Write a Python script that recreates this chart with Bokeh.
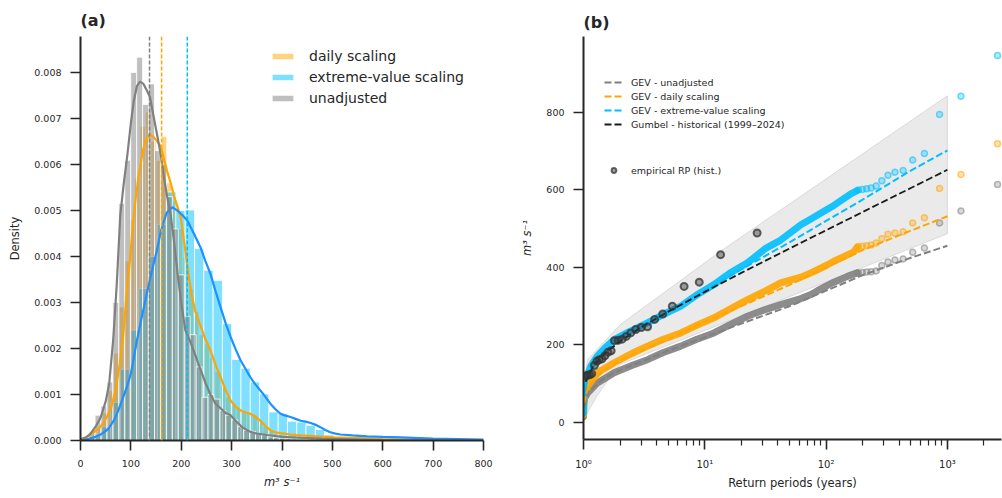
from bokeh.plotting import figure
from bokeh.layouts import row
from bokeh.models import (FixedTicker, PrintfTickFormatter, CustomJSTickFormatter,
                          Span, Legend, LegendItem, Range1d)
from bokeh.embed import file_html
from bokeh.resources import INLINE

FONT = "DejaVu Sans"
INK = "#262626"

# ---------------- panel (a) data ----------------
unadj_bin_width = 11.8
unadj_bin_centers = [11.2, 23.0, 34.8, 46.6, 58.4, 70.2, 82.0, 93.8, 105.6, 117.4, 129.2, 141.0,
                     152.8, 164.6, 176.4, 188.2, 200.0, 211.8, 223.6, 235.4, 247.2, 259.0, 270.8,
                     282.6, 294.4, 306.2, 318.0, 329.8, 341.6, 353.4, 365.2, 377.0, 388.8, 400.6,
                     412.4, 424.2, 436.0, 447.8, 459.6, 471.4]
unadj_density_milli = [0.05, 0.2, 0.55, 0.75, 1.27, 3.0, 5.15, 6.09, 8.0, 8.33, 7.3, 7.75,
                       6.3, 6.0, 5.3, 4.6, 3.6, 2.7, 2.3, 1.6, 0.94, 1.0, 0.9,
                       0.65, 0.55, 0.45, 0.3, 0.22, 0.2, 0.14, 0.12, 0.08, 0.06, 0.05,
                       0.04, 0.03, 0.02, 0.02, 0.01, 0.01]

daily_bin_width = 10.6
daily_bin_centers = [7.0, 17.6, 28.2, 38.8, 49.4, 60.0, 70.6, 81.2, 91.8, 102.4, 113.0, 123.6,
                     134.2, 144.8, 155.4, 166.0, 176.6, 187.2, 197.8, 208.4, 219.0, 229.6, 240.2,
                     250.8, 261.4, 272.0, 282.6, 293.2, 303.8, 314.4, 325.0, 335.6, 346.2, 356.8,
                     367.4, 378.0, 388.6, 399.2, 409.8, 420.4, 431.0, 441.6, 452.2, 462.8, 473.4,
                     484.0, 494.6, 505.2, 515.8, 526.4, 537.0, 547.6]
daily_density_milli = [0.02, 0.05, 0.12, 0.3, 0.6, 1.09, 1.9, 2.9, 3.9, 4.8, 5.7, 6.83,
                       7.14, 6.5, 6.09, 6.61, 5.6, 5.2, 4.6, 4.0, 3.3, 2.8, 2.3,
                       2.1, 1.8, 1.5, 1.2, 0.95, 0.81, 0.7, 0.62, 0.58, 0.55, 0.45,
                       0.3, 0.22, 0.16, 0.13, 0.11, 0.1, 0.08, 0.07, 0.06, 0.06, 0.05,
                       0.04, 0.04, 0.03, 0.03, 0.02, 0.02, 0.01]

ev_bin_width = 18.45
ev_bin_centers = [14.15, 32.6, 51.05, 69.5, 87.95, 106.4, 124.85, 143.3, 161.75, 180.2, 198.65,
                  217.1, 235.55, 254.0, 272.45, 290.9, 309.35, 327.8, 346.25, 364.7, 383.15,
                  401.6, 420.05, 438.5, 456.95, 475.4, 493.85, 512.3, 530.75, 549.2, 567.65,
                  586.1, 604.55, 623.0]
ev_density_milli = [0.03, 0.12, 0.3, 0.83, 1.55, 2.4, 3.3, 4.0, 4.7, 5.4, 5.0,
                    5.01, 4.17, 3.7, 3.48, 2.54, 1.76, 1.57, 1.27, 1.01, 0.62,
                    0.58, 0.42, 0.4, 0.33, 0.24, 0.12, 0.06, 0.05, 0.04, 0.03,
                    0.02, 0.01, 0.01]

kde_unadj_x = [0, 10, 20, 30, 40, 50, 57, 65, 72, 79, 86, 93, 100, 106, 112, 118, 125, 132, 138,
               145, 152, 159, 166, 172, 179, 186, 193, 200, 208, 218, 228, 238, 248, 258, 268,
               278, 288, 298, 308, 318, 328, 337, 350, 370, 400, 437, 480, 520, 560, 600, 700, 800]
kde_unadj_milli = [0.02, 0.06, 0.15, 0.3, 0.5, 0.85, 1.24, 2.2, 3.4, 4.9, 5.6, 6.2, 6.9, 7.39,
                   7.7, 7.8, 7.75, 7.6, 7.46, 7.05, 6.65, 6.23, 5.7, 5.3, 4.9, 4.3, 3.6, 3.0,
                   2.4, 2.15, 1.85, 1.55, 1.25, 1.0, 0.8, 0.7, 0.6, 0.55, 0.43, 0.32, 0.24, 0.19,
                   0.15, 0.12, 0.08, 0.06, 0.04, 0.03, 0.02, 0.01, 0.005, 0.002]

kde_daily_x = [0, 20, 40, 52, 61, 70, 78, 85, 91, 98, 104, 110, 116, 125, 131, 137, 145, 152, 159,
               166, 172, 179, 186, 192, 199, 206, 212, 220, 228, 238, 248, 258, 268, 278, 288,
               298, 308, 318, 328, 337, 347, 357, 367, 377, 387, 397, 417, 437, 470, 503, 550,
               600, 650, 700, 800]
kde_daily_milli = [0.02, 0.12, 0.3, 0.5, 0.72, 1.1, 1.67, 2.3, 3.12, 3.9, 4.7, 5.3, 5.8, 6.35,
                   6.55, 6.65, 6.6, 6.5, 6.4, 6.1, 5.85, 5.6, 5.3, 5.1, 4.85, 4.3, 3.8, 3.2,
                   2.8, 2.5, 2.2, 1.96, 1.65, 1.38, 1.1, 0.87, 0.74, 0.65, 0.61, 0.58, 0.52,
                   0.43, 0.32, 0.22, 0.18, 0.16, 0.13, 0.11, 0.09, 0.07, 0.05, 0.03, 0.02,
                   0.01, 0.005]

kde_ev_x = [0, 10, 20, 30, 40, 55, 66, 75, 92, 100, 112, 122, 133, 142, 151, 160, 171, 182, 192,
            202, 212, 225, 238, 248, 258, 268, 278, 288, 298, 308, 318, 328, 337, 347, 357, 367,
            377, 387, 397, 407, 417, 427, 437, 447, 457, 467, 476, 486, 496, 506, 516, 540, 569,
            600, 635, 700, 750, 800]
kde_ev_milli = [0.01, 0.02, 0.05, 0.08, 0.13, 0.25, 0.43, 0.65, 1.16, 1.45, 2.17, 2.7, 3.26, 3.7,
                4.1, 4.57, 4.95, 5.07, 5.0, 4.9, 4.78, 4.5, 4.2, 3.9, 3.62, 3.25, 2.9, 2.55,
                2.25, 1.98, 1.74, 1.55, 1.38, 1.22, 1.09, 0.95, 0.8, 0.68, 0.58, 0.54, 0.51,
                0.47, 0.43, 0.41, 0.38, 0.34, 0.29, 0.23, 0.18, 0.15, 0.13, 0.11, 0.09, 0.08,
                0.07, 0.04, 0.03, 0.02]

mean_names = ["unadjusted", "daily scaling", "extreme-value scaling"]
mean_values = [137, 161, 212]
density_ticks = [0.0, 0.001, 0.002, 0.003, 0.004, 0.005, 0.006, 0.007, 0.008]
flow_ticks = [0, 100, 200, 300, 400, 500, 600, 700, 800]

# ---------------- panel (b) data ----------------
band_up_rp = [1.0, 1.02, 1.08, 2, 13.5, 1000]
band_up_q = [15, 110, 162, 252, 442, 843]
band_lo_rp = [1.0, 1.1, 1.3, 1.6, 2, 1000]
band_lo_q = [5, 30, 70, 110, 150, 487]

ev_cloud_rp = [1.0004, 1.003, 1.01, 1.03, 1.08, 1.15, 1.3, 1.5, 1.79, 2.3, 3.37, 4.5, 6.34, 8.5,
               11.9, 16, 22.5, 32, 42, 62, 75, 100, 116, 141, 160, 180]
ev_cloud_q = [25, 75, 100, 115, 123, 145, 171, 192, 214, 232, 257, 278, 300, 328,
              356, 385, 412, 450, 470, 510, 525, 548, 560, 578, 590, 598]
daily_cloud_rp = [1.0004, 1.005, 1.02, 1.08, 1.3, 1.79, 2.5, 3.37, 4.5, 6.34, 8.5, 11.9, 16,
                  22.5, 32, 42.2, 62, 75, 100, 116, 140, 169, 180]
daily_cloud_q = [20, 55, 75, 93, 128, 154, 178, 197, 214, 231, 250, 270, 292,
                 317, 340, 360, 375, 386, 405, 416, 428, 440, 452]
unadj_cloud_rp = [1.0004, 1.005, 1.02, 1.08, 1.3, 1.79, 2.5, 3.37, 4.5, 6.34, 8.5, 11.9, 16,
                  22.5, 32, 42.2, 60, 75, 85, 100, 116, 150, 180]
unadj_cloud_q = [15, 45, 62, 76, 102, 128, 147, 162, 180, 197, 214, 231, 252,
                 274, 292, 304, 318, 330, 340, 352, 362, 377, 386]

sim_top_rp = [2590, 1295, 863, 647, 518, 432, 370, 324, 288, 259, 235, 216, 199, 185]
ev_top_q = [947, 842, 795, 694, 677, 650, 646, 638, 624, 610, 605, 603, 601, 600]
daily_top_q = [719, 640, 604, 528, 515, 492, 489, 486, 474, 463, 458, 456, 455, 454]
unadj_top_q = [614, 546, 515, 450, 439, 422, 419, 414, 405, 391, 389, 388, 387, 386]

gev_rp = [1.01, 1.1, 1.5, 2, 5, 10, 20, 50, 100, 200, 500, 1000]
gev_unadj_q = [40, 80, 115, 135, 185, 220, 255, 300, 340, 380, 425, 456]
gev_daily_q = [50, 95, 135, 160, 215, 260, 300, 355, 400, 445, 495, 532]
gev_ev_q = [80, 125, 180, 210, 285, 340, 395, 465, 520, 575, 650, 702]

gumbel_rp = [1.04, 1.2, 1.5, 2, 3, 5, 10, 20, 50, 100, 200, 500, 1000]
gumbel_q = [105, 145, 178, 209, 246, 286, 337, 386, 449, 496, 543, 605, 652]

hist_rp = [27, 13.5, 9, 6.75, 5.4, 4.5, 3.86, 3.375, 3.0, 2.7, 2.45, 2.25, 2.08, 1.93, 1.8,
           1.69, 1.59, 1.5, 1.42, 1.35, 1.29, 1.23, 1.17, 1.125, 1.08, 1.04]
hist_q = [489, 433, 362, 351, 300, 280, 266, 247, 245, 240, 231, 222, 215, 212, 211,
          185, 181, 172, 164, 162, 158, 147, 126, 123, 122, 120]

rp_major = [1, 10, 100, 1000]
rp_minor = [2, 3, 4, 5, 6, 7, 8, 9, 20, 30, 40, 50, 60, 70, 80, 90,
            200, 300, 400, 500, 600, 700, 800, 900, 2000]
q_ticks = [0, 200, 400, 600, 800]

C_GRAY = "#808080"
C_ORANGE = "#FFA500"
C_SKY = "#00BFFF"
C_DODGER = "#1E90FF"


def style(p):
    for ax in p.axis:
        ax.axis_line_color = INK
        ax.axis_line_width = 2
        ax.major_tick_line_color = INK
        ax.major_tick_line_width = 1.6
        ax.major_tick_out = 10
        ax.major_tick_in = 0
        ax.minor_tick_line_color = INK
        ax.minor_tick_line_width = 1.2
        ax.minor_tick_out = 6
        ax.minor_tick_in = 0
        ax.major_label_text_font = FONT
        ax.major_label_text_font_size = "9.5px"
        ax.major_label_text_color = INK
        ax.major_label_standoff = 9
        ax.axis_label_text_font = FONT
        ax.axis_label_text_font_size = "11.5px"
        ax.axis_label_text_color = INK
        ax.axis_label_standoff = 9
    p.grid.visible = False
    p.outline_line_color = None
    p.title.text_font = FONT
    p.title.text_font_size = "16px"
    p.title.text_font_style = "bold"
    p.title.text_color = INK
    p.title.align = "left"


# ---------------- panel (a) ----------------
pa = figure(width=500, height=498, frame_width=403, frame_height=404,
            x_range=Range1d(0, 800), y_range=Range1d(0, 0.00878),
            output_backend="svg", toolbar_location=None, title="(a)",
            min_border_left=80, min_border_right=17, min_border_top=36, min_border_bottom=58)


def quads(p, centers, width, dens_milli, color):
    return p.quad(left=[c - width / 2 for c in centers], right=[c + width / 2 for c in centers],
                  bottom=0, top=[d / 1000 for d in dens_milli],
                  fill_color=color, fill_alpha=0.5, line_color="white", line_width=0.8)


r_daily = quads(pa, daily_bin_centers, daily_bin_width, daily_density_milli, C_ORANGE)
r_ev = quads(pa, ev_bin_centers, ev_bin_width, ev_density_milli, C_SKY)
r_unadj = quads(pa, unadj_bin_centers, unadj_bin_width, unadj_density_milli, C_GRAY)

pa.line(kde_daily_x, [v / 1000 for v in kde_daily_milli], line_color=C_ORANGE, line_width=2.2)
pa.line(kde_ev_x, [v / 1000 for v in kde_ev_milli], line_color=C_DODGER, line_width=2.2)
pa.line(kde_unadj_x, [v / 1000 for v in kde_unadj_milli], line_color=C_GRAY, line_width=2.2)

for name, m, col in zip(mean_names, mean_values, [C_GRAY, C_ORANGE, C_SKY]):
    pa.add_layout(Span(location=m, dimension="height", line_color=col, line_width=1.5,
                       line_dash="4 2"))

pa.xaxis.ticker = FixedTicker(ticks=flow_ticks)
pa.yaxis.ticker = FixedTicker(ticks=density_ticks)
pa.yaxis.formatter = PrintfTickFormatter(format="%.3f")
pa.xaxis.axis_label = "m³ s⁻¹"
pa.yaxis.axis_label = "Density"
style(pa)
pa.title.standoff = 14
pa.xaxis.axis_label_text_font_style = "italic"
pa.xaxis.axis_label_standoff = 5
pa.yaxis.axis_label_text_font_style = "normal"

leg_a = Legend(items=[LegendItem(label="daily scaling", renderers=[r_daily]),
                      LegendItem(label="extreme-value scaling", renderers=[r_ev]),
                      LegendItem(label="unadjusted", renderers=[r_unadj])],
               location=(189, 334), border_line_color=None, background_fill_alpha=0,
               padding=0, margin=0, spacing=5, glyph_width=27, glyph_height=8,
               label_height=16, label_standoff=13, label_text_font=FONT,
               label_text_font_size="14px", label_text_color=INK)
pa.add_layout(leg_a)

# ---------------- panel (b) ----------------
pb = figure(width=502, height=498, frame_width=418, frame_height=403,
            x_axis_type="log", x_range=Range1d(1, 2793),
            y_range=Range1d(-44, 996), output_backend="svg", toolbar_location=None,
            title="(b)", min_border_left=83, min_border_right=1, min_border_top=32,
            min_border_bottom=63)

pb.patch(band_up_rp + band_lo_rp[::-1], band_up_q + band_lo_q[::-1],
         fill_color="#d6d6d6", fill_alpha=0.5, line_color="#cfcfcf", line_alpha=0.7,
         line_width=1)

for xs, ys, col in [(unadj_cloud_rp, unadj_cloud_q, C_GRAY),
                    (daily_cloud_rp, daily_cloud_q, C_ORANGE),
                    (ev_cloud_rp, ev_cloud_q, C_SKY)]:
    pb.line(xs, ys, line_color=col, line_width=7, line_alpha=0.9,
            line_cap="round", line_join="round")

for ys, col in [(unadj_top_q, C_GRAY), (daily_top_q, C_ORANGE), (ev_top_q, C_SKY)]:
    pb.scatter(sim_top_rp, ys, size=6, fill_color=col, fill_alpha=0.3,
               line_color=col, line_alpha=0.55, line_width=1.5)

dash = "7 3"
r_g1 = pb.line(gev_rp, gev_unadj_q, line_color=C_GRAY, line_width=2, line_dash=dash)
r_g2 = pb.line(gev_rp, gev_daily_q, line_color=C_ORANGE, line_width=2, line_dash=dash)
r_g3 = pb.line(gev_rp, gev_ev_q, line_color=C_SKY, line_width=2, line_dash=dash)
r_g4 = pb.line(gumbel_rp, gumbel_q, line_color="#1a1a1a", line_width=1.8, line_dash=dash)

r_hist = pb.scatter(hist_rp, hist_q, size=7, fill_color="#3a3a3a", fill_alpha=0.45,
                    line_color="#333333", line_alpha=0.75, line_width=2)

pb.xaxis.ticker = FixedTicker(ticks=rp_major, minor_ticks=rp_minor)
pb.xaxis.formatter = CustomJSTickFormatter(code="""
const sup = {"0":"\u2070","1":"\u00b9","2":"\u00b2","3":"\u00b3","4":"\u2074","5":"\u2075",
             "6":"\u2076","7":"\u2077","8":"\u2078","9":"\u2079","-":"\u207b"};
const e = Math.round(Math.log10(tick));
return "10" + String(e).split("").map(c => sup[c]).join("");
""")
pb.yaxis.ticker = FixedTicker(ticks=q_ticks)
pb.xaxis.axis_label = "Return periods (years)"
pb.yaxis.axis_label = "m³ s⁻¹"
style(pb)
pb.title.standoff = 9
pb.yaxis.axis_label_text_font_style = "italic"
pb.xaxis.axis_label_text_font_style = "normal"
pb.xaxis.axis_label_standoff = 3
pb.xaxis.major_label_text_font_size = "10px"

leg_b1 = Legend(items=[LegendItem(label="GEV - unadjusted", renderers=[r_g1]),
                       LegendItem(label="GEV - daily scaling", renderers=[r_g2]),
                       LegendItem(label="GEV - extreme-value scaling", renderers=[r_g3]),
                       LegendItem(label="Gumbel - historical (1999\u20132024)", renderers=[r_g4])],
                location=(21, 309), border_line_color=None, background_fill_alpha=0,
                padding=0, margin=0, spacing=2, glyph_width=19, glyph_height=12,
                label_height=12, label_standoff=8, label_text_font=FONT,
                label_text_font_size="9.5px", label_text_color=INK)
leg_b2 = Legend(items=[LegendItem(label="empirical RP (hist.)", renderers=[r_hist])],
                location=(21, 263), border_line_color=None, background_fill_alpha=0,
                padding=0, margin=0, glyph_width=19, glyph_height=12,
                label_height=12, label_standoff=8, label_text_font=FONT,
                label_text_font_size="9.5px", label_text_color=INK)
pb.add_layout(leg_b1)
pb.add_layout(leg_b2)

layout = row(pa, pb)
open("out.html", "w").write(file_html(layout, INLINE))
